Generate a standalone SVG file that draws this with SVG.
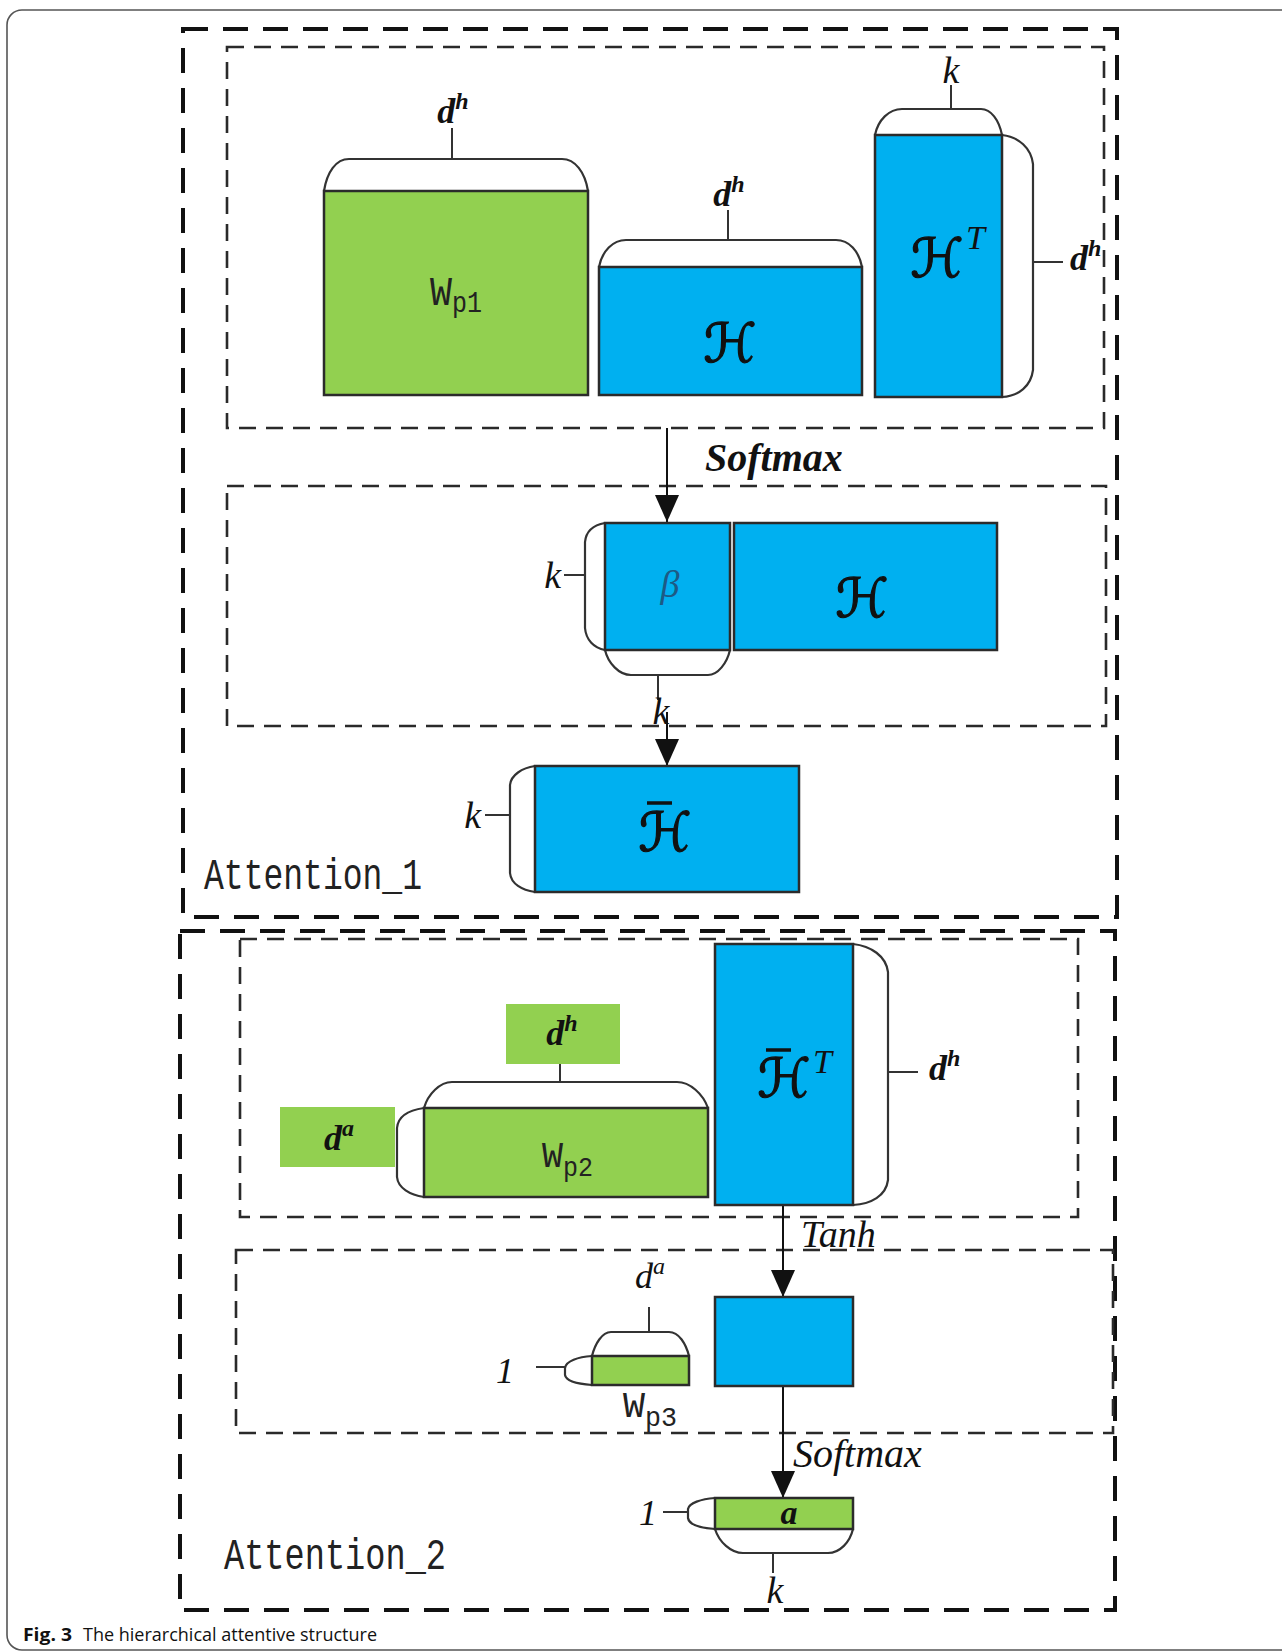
<svg xmlns="http://www.w3.org/2000/svg" width="1282" height="1652" viewBox="0 0 1282 1652">
  <style>
    .frame { fill:none; stroke:#555; stroke-width:1.6; }
    .ob { fill:none; stroke:#111; stroke-width:4; stroke-dasharray:25 15; }
    .ib { fill:none; stroke:#2a2a2a; stroke-width:2.6; stroke-dasharray:17 10; }
    .blue { fill:#00B0F0; stroke:#2b2b2b; stroke-width:2.5; }
    .green { fill:#92D050; stroke:#2b2b2b; stroke-width:2.5; }
    .gbox { fill:#92D050; }
    .cap { fill:#fff; stroke:#333; stroke-width:2.2; }
    .tick { stroke:#333; stroke-width:2; fill:none; }
    .conn { stroke:#111; stroke-width:2; fill:none; }
    .m { font-family:"Liberation Serif", "DejaVu Serif", serif; font-style:italic; fill:#111; }
    .b { font-weight:bold; }
    .scr { font-family:"DejaVu Sans", "DejaVu Serif", sans-serif; fill:#111; stroke:#111; stroke-width:1.2; }
    .mono { font-family:"Liberation Mono", "DejaVu Sans Mono", monospace; fill:#222; }
    .cap-txt { font-family:"Open Sans", "Noto Sans", sans-serif; fill:#111; }
  </style>
  <defs>
    <marker id="arrow" markerUnits="userSpaceOnUse" markerWidth="27" markerHeight="24" refX="27" refY="12" orient="auto">
      <path d="M0,0 L27,12 L0,24 z" fill="#111"/>
    </marker>
  </defs>

  <!-- page frame -->
  <rect class="frame" x="7" y="10" width="1300" height="1640" rx="15"/>

  <!-- section frames -->
  <g id="attention1">
    <rect class="ob" x="183" y="29" width="934" height="888"/>
    <rect class="ib" x="227" y="47" width="877" height="381"/>
    <rect class="ib" x="227" y="486" width="879" height="240"/>
    <text class="mono" x="204" y="889" font-size="44" textLength="218" lengthAdjust="spacingAndGlyphs">Attention_1</text>
  </g>
  <g id="attention2">
    <rect class="ob" x="180" y="931" width="935" height="679"/>
    <rect class="ib" x="240" y="939" width="838" height="278"/>
    <rect class="ib" x="236" y="1250" width="877" height="183"/>
    <text class="mono" x="224" y="1569" font-size="44" textLength="222" lengthAdjust="spacingAndGlyphs">Attention_2</text>
  </g>

  <!-- connectors -->
  <g id="connectors">
    <line class="conn" x1="667" y1="428" x2="667" y2="522" marker-end="url(#arrow)"/>
    <line class="conn" x1="667" y1="712" x2="667" y2="766" marker-end="url(#arrow)"/>
    <line class="conn" x1="783" y1="1205" x2="783" y2="1297" marker-end="url(#arrow)"/>
    <line class="conn" x1="783" y1="1386" x2="783" y2="1498" marker-end="url(#arrow)"/>
    <text class="m b" x="705" y="471" font-size="40">Softmax</text>
    <text class="m" x="801" y="1247" font-size="38">Tanh</text>
    <text class="m" x="793" y="1467" font-size="40">Softmax</text>
  </g>

  <!-- W_p1 -->
  <g id="wp1">
    <path class="cap" d="M324,191 C327,172 336,159 349,159 L562,159 C575,159 585,172 588,191"/>
    <line class="tick" x1="452" y1="159" x2="452" y2="128"/>
    <rect class="green" x="324" y="191" width="264" height="204"/>
    <text class="mono" x="430" y="305" font-size="40" textLength="22" lengthAdjust="spacingAndGlyphs">W</text>
    <text class="mono" x="452" y="312" font-size="30" textLength="30" lengthAdjust="spacingAndGlyphs">p1</text>
    <text class="m b" x="453" y="123" font-size="36" text-anchor="middle">d<tspan dy="-14" font-size="24">h</tspan></text>
  </g>

  <!-- H -->
  <g id="h1">
    <path class="cap" d="M599,267 C602,251 613,240 626,240 L836,240 C849,240 859,251 862,267"/>
    <line class="tick" x1="728" y1="240" x2="728" y2="210"/>
    <rect class="blue" x="599" y="267" width="263" height="128"/>
    <text class="scr" x="730" y="362" font-size="54" text-anchor="middle">ℋ</text>
    <text class="m b" x="729" y="206" font-size="36" text-anchor="middle">d<tspan dy="-14" font-size="24">h</tspan></text>
  </g>

  <!-- H^T -->
  <g id="ht">
    <path class="cap" d="M875,135 C878,120 889,109 902,109 L981,109 C991,109 999,120 1002,135"/>
    <line class="tick" x1="951" y1="109" x2="951" y2="85"/>
    <path class="cap" d="M1002,135 C1019,137 1031,148 1033,164 L1033,370 C1031,386 1019,396 1002,397"/>
    <line class="tick" x1="1033" y1="262" x2="1063" y2="262"/>
    <rect class="blue" x="875" y="135" width="127" height="262"/>
    <text class="scr" x="937" y="277" font-size="54" text-anchor="middle">ℋ</text>
    <text class="m" x="966" y="249" font-size="34">T</text>
    <text class="m" x="951" y="83" font-size="38" text-anchor="middle">k</text>
    <text class="m b" x="1070" y="270" font-size="36">d<tspan dy="-14" font-size="24">h</tspan></text>
  </g>

  <!-- beta -->
  <g id="beta">
    <path class="cap" d="M605,523 C594,525 586,531 585,542 L585,628 C586,640 594,648 605,650"/>
    <line class="tick" x1="585" y1="575" x2="564" y2="575"/>
    <path class="cap" d="M605,650 C608,663 619,675 631,675 L708,675 C718,675 727,663 730,650"/>
    <line class="tick" x1="658" y1="675" x2="658" y2="700"/>
    <rect class="blue" x="605" y="523" width="125" height="127"/>
    <text class="m" x="670" y="597" font-size="38" text-anchor="middle" style="fill:#1d5a85">β</text>
    <text class="m" x="561" y="588" font-size="38" text-anchor="end">k</text>
    <text class="m" x="661" y="724" font-size="38" text-anchor="middle">k</text>
  </g>

  <!-- H (second) -->
  <g id="h2">
    <rect class="blue" x="734" y="523" width="263" height="127"/>
    <text class="scr" x="862" y="617" font-size="54" text-anchor="middle">ℋ</text>
  </g>

  <!-- H bar -->
  <g id="hbar">
    <path class="cap" d="M535,766 C522,768 511,775 510,785 L510,873 C511,884 522,890 535,892"/>
    <line class="tick" x1="510" y1="815" x2="485" y2="815"/>
    <rect class="blue" x="535" y="766" width="264" height="126"/>
    <text class="scr" x="665" y="851" font-size="54" text-anchor="middle">ℋ</text>
    <line x1="647" y1="803" x2="672" y2="803" stroke="#111" stroke-width="3.5"/>
    <text class="m" x="481" y="828" font-size="38" text-anchor="end">k</text>
  </g>

  <!-- H bar ^T -->
  <g id="hbart">
    <path class="cap" d="M853,944 C871,946 886,956 888,972 L888,1180 C886,1196 871,1204 853,1205"/>
    <line class="tick" x1="888" y1="1072" x2="918" y2="1072"/>
    <rect class="blue" x="715" y="944" width="138" height="261"/>
    <text class="scr" x="784" y="1097" font-size="54" text-anchor="middle">ℋ</text>
    <line x1="766" y1="1050" x2="791" y2="1050" stroke="#111" stroke-width="3.5"/>
    <text class="m" x="813" y="1073" font-size="34">T</text>
    <text class="m b" x="929" y="1080" font-size="36">d<tspan dy="-14" font-size="24">h</tspan></text>
  </g>

  <!-- W_p2 -->
  <g id="wp2">
    <rect class="gbox" x="506" y="1004" width="114" height="60"/>
    <text class="m b" x="562" y="1045" font-size="36" text-anchor="middle">d<tspan dy="-14" font-size="24">h</tspan></text>
    <rect class="gbox" x="280" y="1107" width="115" height="60"/>
    <text class="m b" x="339" y="1150" font-size="36" text-anchor="middle">d<tspan dy="-14" font-size="24">a</tspan></text>
    <path class="cap" d="M424,1108 C428,1094 440,1082 452,1082 L677,1082 C690,1082 703,1094 708,1108"/>
    <line class="tick" x1="560" y1="1082" x2="560" y2="1064"/>
    <path class="cap" d="M424,1108 C410,1110 398,1116 397,1128 L397,1177 C398,1188 410,1195 424,1197"/>
    <rect class="green" x="424" y="1108" width="284" height="89"/>
    <text class="mono" x="542" y="1167" font-size="36" textLength="21" lengthAdjust="spacingAndGlyphs">W</text>
    <text class="mono" x="563" y="1176" font-size="28" textLength="30" lengthAdjust="spacingAndGlyphs">p2</text>
  </g>

  <!-- tanh output -->
  <g id="tanh-out">
    <rect class="blue" x="715" y="1297" width="138" height="89"/>
  </g>

  <!-- W_p3 -->
  <g id="wp3">
    <path class="cap" d="M592,1356 C595,1344 602,1332 611,1332 L669,1332 C679,1332 686,1344 689,1356"/>
    <line class="tick" x1="649" y1="1332" x2="649" y2="1307"/>
    <path class="cap" d="M592,1356 C578,1357 566,1361 565,1368 L565,1375 C566,1381 578,1384 592,1385"/>
    <line class="tick" x1="565" y1="1367" x2="536" y2="1367"/>
    <rect class="green" x="592" y="1356" width="97" height="29"/>
    <text class="m" x="650" y="1288" font-size="36" text-anchor="middle">d<tspan dy="-14" font-size="24">a</tspan></text>
    <text class="m" x="505" y="1383" font-size="36" text-anchor="middle">1</text>
    <text class="mono" x="623" y="1417" font-size="36" textLength="22" lengthAdjust="spacingAndGlyphs">W</text>
    <text class="mono" x="645" y="1426" font-size="28" textLength="32" lengthAdjust="spacingAndGlyphs">p3</text>
  </g>

  <!-- a -->
  <g id="a">
    <path class="cap" d="M715,1498 C701,1499 689,1503 688,1509 L688,1518 C689,1525 701,1528 715,1529"/>
    <line class="tick" x1="688" y1="1512" x2="663" y2="1512"/>
    <path class="cap" d="M715,1529 C719,1542 731,1553 743,1553 L828,1553 C840,1553 850,1542 853,1529"/>
    <line class="tick" x1="773" y1="1553" x2="773" y2="1573"/>
    <rect class="green" x="715" y="1498" width="138" height="31"/>
    <text class="m b" x="789" y="1524" font-size="34" text-anchor="middle">a</text>
    <text class="m" x="648" y="1525" font-size="36" text-anchor="middle">1</text>
    <text class="m" x="775" y="1603" font-size="38" text-anchor="middle">k</text>
  </g>

  <!-- caption -->
  <text class="cap-txt" x="23" y="1641" font-size="18" font-weight="bold" textLength="49" lengthAdjust="spacingAndGlyphs">Fig. 3</text>
  <text class="cap-txt" x="83" y="1641" font-size="18" textLength="294" lengthAdjust="spacingAndGlyphs">The hierarchical attentive structure</text>
</svg>
